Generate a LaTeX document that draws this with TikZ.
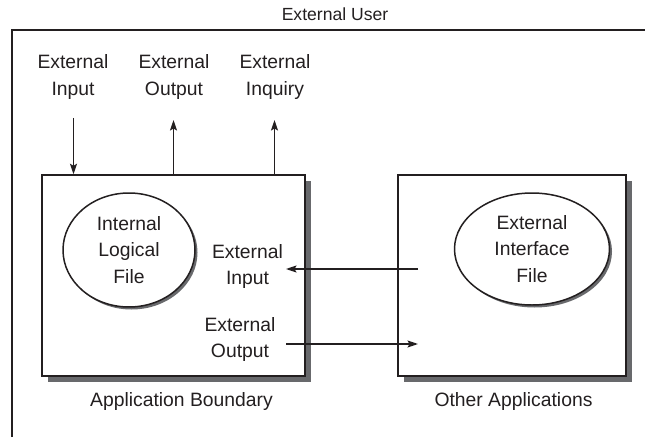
\documentclass[tikz,border=0pt]{standalone}
\usepackage{fontspec}
\setmainfont{Liberation Sans}
\usetikzlibrary{arrows.meta, shapes.geometric, shadows}
\definecolor{shade}{RGB}{104,105,108}
\definecolor{ink}{RGB}{35,31,32}

\begin{document}
\begin{tikzpicture}[line width=0.85pt, draw=ink,
          lbl/.style={align=center, text=ink, inner sep=0pt, font=\fontsize{11}{15}\selectfont},
          bound/.style={draw=ink, fill=white, minimum height=4.02cm, inner sep=0pt,
            drop shadow={shadow xshift=0.11cm, shadow yshift=-0.11cm, fill=shade, opacity=1}},
          store/.style={ellipse, draw=ink, fill=white, inner sep=0pt, align=center, text=ink,
            font=\fontsize{11}{15}\selectfont,
            drop shadow={shadow xshift=0.05cm, shadow yshift=-0.05cm, fill=shade, opacity=1}},
          flow/.style={draw=ink, -{Stealth[length=2.1mm, width=1.4mm, inset=0.4mm]}}]
          \useasboundingbox (0,0) rectangle (12.9,8.74);
          % external user frame
          \node[lbl, font=\fontsize{10}{12}\selectfont] (user) at (6.7,8.46) {External User};
          \draw (0.24,0) -- (0.24,8.14) -- (12.9,8.14);
          % boundaries
          \node[bound, minimum width=5.26cm] (app) at (3.47,3.23) {};
          \node[bound, minimum width=4.56cm] (other) at (10.24,3.23) {};
          \node[lbl] (appname) at (3.63,0.72) {Application Boundary};
          \node[lbl] (othername) at (10.27,0.72) {Other Applications};
          % files
          \node[store, minimum width=2.64cm, minimum height=2.28cm] (ilf) at (2.58,3.74) {Internal\\Logical\\File};
          \node[store, minimum width=3.1cm, minimum height=2.24cm] (eif) at (10.64,3.76) {External\\Interface\\File};
          % user transactions
          \node[lbl] (ei) at (1.46,7.2) {External\\Input};
          \node[lbl] (eo) at (3.48,7.2) {External\\Output};
          \node[lbl] (eq) at (5.5,7.2) {External\\Inquiry};
          \coordinate (eitop) at (1.47,6.38);
          \coordinate (eotop) at (3.47,6.34);
          \coordinate (eqtop) at (5.49,6.34);
          \draw[flow] (eitop) -- (eitop |- app.north);
          \draw[flow] (eotop |- app.north) -- (eotop);
          \draw[flow] (eqtop |- app.north) -- (eqtop);
          % transactions between applications
          \node[lbl] (ein) at (4.95,3.41) {External\\Input};
          \node[lbl] (eout) at (4.8,1.95) {External\\Output};
          \coordinate (inend) at (5.72,3.36);
          \coordinate (instart) at (8.36,3.36);
          \coordinate (outstart) at (5.72,1.86);
          \coordinate (outend) at (8.36,1.86);
          \draw[flow] (instart) -- (inend);
          \draw[flow] (outstart) -- (outend);
        \end{tikzpicture}
\end{document}
